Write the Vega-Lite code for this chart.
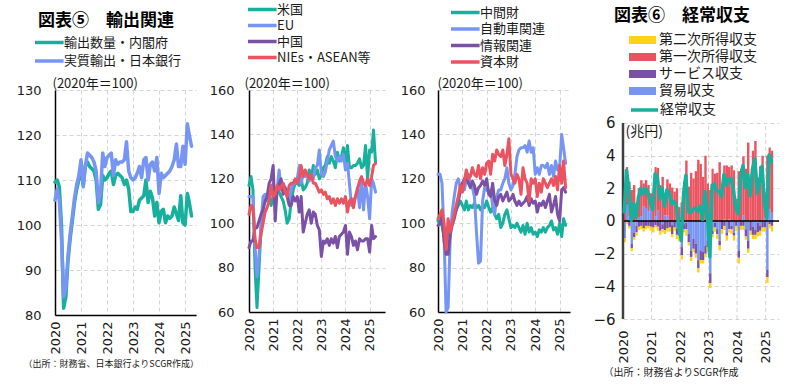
{
"$schema":"https://vega.github.io/schema/vega-lite/v6.json",
"background":"white",
"padding":{"left":16,"top":1,"right":5,"bottom":5},
"bounds":"flush",
"spacing":53,
"config":{
 "font":"Noto Sans CJK JP",
 "view":{"stroke":null},
 "line":{"strokeJoin":"round","strokeCap":"round"},
 "axis":{"labelFont":"DejaVu Sans","labelFontSize":13,"labelColor":"#1a1a1a","grid":true,"gridColor":"#d4d4d4","gridDash":[4,3],"gridWidth":1,"domainColor":"#000000","domainWidth":1.5,"ticks":false,"tickSize":0,"titleFont":"Noto Sans CJK JP","titleFontWeight":"normal","titleColor":"#1a1a1a","titleFontSize":13},
 "legend":{"labelFont":"Noto Sans CJK JP","labelFontSize":13,"labelColor":"#1a1a1a","orient":"none","labelOffset":14,"symbolStrokeWidth":3.5,"symbolSize":169,"symbolType":"M-1,0H3.4"},
 "title":{"font":"Noto Sans CJK JP","fontSize":17,"fontWeight":"bold","color":"#000000","anchor":"start","frame":"group"}
},
"resolve":{"scale":{"color":"independent","fill":"independent","stroke":"independent"}},
"datasets":{
"p1":[
{"d":"2020-01","s":"輸出数量・内閣府","v":109.5},{"d":"2020-02","s":"輸出数量・内閣府","v":110},{"d":"2020-03","s":"輸出数量・内閣府","v":108.5},{"d":"2020-04","s":"輸出数量・内閣府","v":100},{"d":"2020-05","s":"輸出数量・内閣府","v":81.5},{"d":"2020-06","s":"輸出数量・内閣府","v":84},{"d":"2020-07","s":"輸出数量・内閣府","v":92},{"d":"2020-08","s":"輸出数量・内閣府","v":97},{"d":"2020-09","s":"輸出数量・内閣府","v":101},{"d":"2020-10","s":"輸出数量・内閣府","v":105},{"d":"2020-11","s":"輸出数量・内閣府","v":108},{"d":"2020-12","s":"輸出数量・内閣府","v":110},
{"d":"2021-01","s":"輸出数量・内閣府","v":112},{"d":"2021-02","s":"輸出数量・内閣府","v":109},{"d":"2021-03","s":"輸出数量・内閣府","v":113},{"d":"2021-04","s":"輸出数量・内閣府","v":114},{"d":"2021-05","s":"輸出数量・内閣府","v":113},{"d":"2021-06","s":"輸出数量・内閣府","v":112.5},{"d":"2021-07","s":"輸出数量・内閣府","v":112},{"d":"2021-08","s":"輸出数量・内閣府","v":110},{"d":"2021-09","s":"輸出数量・内閣府","v":103.5},{"d":"2021-10","s":"輸出数量・内閣府","v":104.5},{"d":"2021-11","s":"輸出数量・内閣府","v":111},{"d":"2021-12","s":"輸出数量・内閣府","v":110},
{"d":"2022-01","s":"輸出数量・内閣府","v":110.5},{"d":"2022-02","s":"輸出数量・内閣府","v":111.5},{"d":"2022-03","s":"輸出数量・内閣府","v":112},{"d":"2022-04","s":"輸出数量・内閣府","v":109},{"d":"2022-05","s":"輸出数量・内閣府","v":111},{"d":"2022-06","s":"輸出数量・内閣府","v":111.5},{"d":"2022-07","s":"輸出数量・内閣府","v":111},{"d":"2022-08","s":"輸出数量・内閣府","v":110.5},{"d":"2022-09","s":"輸出数量・内閣府","v":109},{"d":"2022-10","s":"輸出数量・内閣府","v":110},{"d":"2022-11","s":"輸出数量・内閣府","v":108},{"d":"2022-12","s":"輸出数量・内閣府","v":103},
{"d":"2023-01","s":"輸出数量・内閣府","v":103},{"d":"2023-02","s":"輸出数量・内閣府","v":104},{"d":"2023-03","s":"輸出数量・内閣府","v":103.5},{"d":"2023-04","s":"輸出数量・内閣府","v":105.5},{"d":"2023-05","s":"輸出数量・内閣府","v":106},{"d":"2023-06","s":"輸出数量・内閣府","v":106.5},{"d":"2023-07","s":"輸出数量・内閣府","v":110},{"d":"2023-08","s":"輸出数量・内閣府","v":105},{"d":"2023-09","s":"輸出数量・内閣府","v":107.5},{"d":"2023-10","s":"輸出数量・内閣府","v":106},{"d":"2023-11","s":"輸出数量・内閣府","v":102},{"d":"2023-12","s":"輸出数量・内閣府","v":105},
{"d":"2024-01","s":"輸出数量・内閣府","v":100.5},{"d":"2024-02","s":"輸出数量・内閣府","v":103},{"d":"2024-03","s":"輸出数量・内閣府","v":103.5},{"d":"2024-04","s":"輸出数量・内閣府","v":100.5},{"d":"2024-05","s":"輸出数量・内閣府","v":102},{"d":"2024-06","s":"輸出数量・内閣府","v":101.5},{"d":"2024-07","s":"輸出数量・内閣府","v":102},{"d":"2024-08","s":"輸出数量・内閣府","v":104},{"d":"2024-09","s":"輸出数量・内閣府","v":102.5},{"d":"2024-10","s":"輸出数量・内閣府","v":101},{"d":"2024-11","s":"輸出数量・内閣府","v":106.5},{"d":"2024-12","s":"輸出数量・内閣府","v":100.5},
{"d":"2025-01","s":"輸出数量・内閣府","v":100},{"d":"2025-02","s":"輸出数量・内閣府","v":107},{"d":"2025-03","s":"輸出数量・内閣府","v":105},{"d":"2025-04","s":"輸出数量・内閣府","v":102},
{"d":"2020-01","s":"実質輸出・日本銀行","v":105.5},{"d":"2020-02","s":"実質輸出・日本銀行","v":108},{"d":"2020-03","s":"実質輸出・日本銀行","v":105.5},{"d":"2020-04","s":"実質輸出・日本銀行","v":97},{"d":"2020-05","s":"実質輸出・日本銀行","v":84},{"d":"2020-06","s":"実質輸出・日本銀行","v":86},{"d":"2020-07","s":"実質輸出・日本銀行","v":93},{"d":"2020-08","s":"実質輸出・日本銀行","v":98},{"d":"2020-09","s":"実質輸出・日本銀行","v":102},{"d":"2020-10","s":"実質輸出・日本銀行","v":106},{"d":"2020-11","s":"実質輸出・日本銀行","v":109},{"d":"2020-12","s":"実質輸出・日本銀行","v":111},
{"d":"2021-01","s":"実質輸出・日本銀行","v":114.5},{"d":"2021-02","s":"実質輸出・日本銀行","v":108.5},{"d":"2021-03","s":"実質輸出・日本銀行","v":113},{"d":"2021-04","s":"実質輸出・日本銀行","v":116},{"d":"2021-05","s":"実質輸出・日本銀行","v":115.5},{"d":"2021-06","s":"実質輸出・日本銀行","v":115},{"d":"2021-07","s":"実質輸出・日本銀行","v":114},{"d":"2021-08","s":"実質輸出・日本銀行","v":112},{"d":"2021-09","s":"実質輸出・日本銀行","v":105},{"d":"2021-10","s":"実質輸出・日本銀行","v":107},{"d":"2021-11","s":"実質輸出・日本銀行","v":116},{"d":"2021-12","s":"実質輸出・日本銀行","v":113},
{"d":"2022-01","s":"実質輸出・日本銀行","v":115},{"d":"2022-02","s":"実質輸出・日本銀行","v":115.5},{"d":"2022-03","s":"実質輸出・日本銀行","v":116},{"d":"2022-04","s":"実質輸出・日本銀行","v":111},{"d":"2022-05","s":"実質輸出・日本銀行","v":114.5},{"d":"2022-06","s":"実質輸出・日本銀行","v":113.5},{"d":"2022-07","s":"実質輸出・日本銀行","v":114},{"d":"2022-08","s":"実質輸出・日本銀行","v":114},{"d":"2022-09","s":"実質輸出・日本銀行","v":114.5},{"d":"2022-10","s":"実質輸出・日本銀行","v":118.5},{"d":"2022-11","s":"実質輸出・日本銀行","v":112},{"d":"2022-12","s":"実質輸出・日本銀行","v":110.5},
{"d":"2023-01","s":"実質輸出・日本銀行","v":110},{"d":"2023-02","s":"実質輸出・日本銀行","v":110.5},{"d":"2023-03","s":"実質輸出・日本銀行","v":111.5},{"d":"2023-04","s":"実質輸出・日本銀行","v":113},{"d":"2023-05","s":"実質輸出・日本銀行","v":110.5},{"d":"2023-06","s":"実質輸出・日本銀行","v":114.5},{"d":"2023-07","s":"実質輸出・日本銀行","v":115},{"d":"2023-08","s":"実質輸出・日本銀行","v":110},{"d":"2023-09","s":"実質輸出・日本銀行","v":113.5},{"d":"2023-10","s":"実質輸出・日本銀行","v":114},{"d":"2023-11","s":"実質輸出・日本銀行","v":112},{"d":"2023-12","s":"実質輸出・日本銀行","v":115},
{"d":"2024-01","s":"実質輸出・日本銀行","v":107},{"d":"2024-02","s":"実質輸出・日本銀行","v":111.5},{"d":"2024-03","s":"実質輸出・日本銀行","v":110.5},{"d":"2024-04","s":"実質輸出・日本銀行","v":111},{"d":"2024-05","s":"実質輸出・日本銀行","v":111.5},{"d":"2024-06","s":"実質輸出・日本銀行","v":112},{"d":"2024-07","s":"実質輸出・日本銀行","v":113},{"d":"2024-08","s":"実質輸出・日本銀行","v":114.5},{"d":"2024-09","s":"実質輸出・日本銀行","v":118},{"d":"2024-10","s":"実質輸出・日本銀行","v":113},{"d":"2024-11","s":"実質輸出・日本銀行","v":113},{"d":"2024-12","s":"実質輸出・日本銀行","v":117.5},
{"d":"2025-01","s":"実質輸出・日本銀行","v":113.5},{"d":"2025-02","s":"実質輸出・日本銀行","v":122.5},{"d":"2025-03","s":"実質輸出・日本銀行","v":120},{"d":"2025-04","s":"実質輸出・日本銀行","v":117.5}
],
"p2":[
{"d":"2020-01","s":"米国","v":117},{"d":"2020-02","s":"米国","v":121},{"d":"2020-03","s":"米国","v":115},{"d":"2020-04","s":"米国","v":80},{"d":"2020-05","s":"米国","v":62},{"d":"2020-06","s":"米国","v":80},{"d":"2020-07","s":"米国","v":97},{"d":"2020-08","s":"米国","v":108},{"d":"2020-09","s":"米国","v":110},{"d":"2020-10","s":"米国","v":112},{"d":"2020-11","s":"米国","v":113},{"d":"2020-12","s":"米国","v":108},
{"d":"2021-01","s":"米国","v":112},{"d":"2021-02","s":"米国","v":111},{"d":"2021-03","s":"米国","v":115},{"d":"2021-04","s":"米国","v":114},{"d":"2021-05","s":"米国","v":112},{"d":"2021-06","s":"米国","v":110},{"d":"2021-07","s":"米国","v":106},{"d":"2021-08","s":"米国","v":100},{"d":"2021-09","s":"米国","v":102},{"d":"2021-10","s":"米国","v":110},{"d":"2021-11","s":"米国","v":115},{"d":"2021-12","s":"米国","v":118},
{"d":"2022-01","s":"米国","v":118},{"d":"2022-02","s":"米国","v":117},{"d":"2022-03","s":"米国","v":120},{"d":"2022-04","s":"米国","v":115},{"d":"2022-05","s":"米国","v":116},{"d":"2022-06","s":"米国","v":118},{"d":"2022-07","s":"米国","v":124},{"d":"2022-08","s":"米国","v":120},{"d":"2022-09","s":"米国","v":126},{"d":"2022-10","s":"米国","v":122},{"d":"2022-11","s":"米国","v":124},{"d":"2022-12","s":"米国","v":120},
{"d":"2023-01","s":"米国","v":122},{"d":"2023-02","s":"米国","v":125},{"d":"2023-03","s":"米国","v":126},{"d":"2023-04","s":"米国","v":130},{"d":"2023-05","s":"米国","v":127},{"d":"2023-06","s":"米国","v":130},{"d":"2023-07","s":"米国","v":128},{"d":"2023-08","s":"米国","v":125},{"d":"2023-09","s":"米国","v":132},{"d":"2023-10","s":"米国","v":128},{"d":"2023-11","s":"米国","v":130},{"d":"2023-12","s":"米国","v":134},
{"d":"2024-01","s":"米国","v":126},{"d":"2024-02","s":"米国","v":135},{"d":"2024-03","s":"米国","v":125},{"d":"2024-04","s":"米国","v":125},{"d":"2024-05","s":"米国","v":126},{"d":"2024-06","s":"米国","v":126},{"d":"2024-07","s":"米国","v":127},{"d":"2024-08","s":"米国","v":129},{"d":"2024-09","s":"米国","v":125},{"d":"2024-10","s":"米国","v":126},{"d":"2024-11","s":"米国","v":135},{"d":"2024-12","s":"米国","v":120},
{"d":"2025-01","s":"米国","v":133},{"d":"2025-02","s":"米国","v":132},{"d":"2025-03","s":"米国","v":142},{"d":"2025-04","s":"米国","v":127},
{"d":"2020-01","s":"EU","v":112},{"d":"2020-02","s":"EU","v":112},{"d":"2020-03","s":"EU","v":112},{"d":"2020-04","s":"EU","v":90},{"d":"2020-05","s":"EU","v":76},{"d":"2020-06","s":"EU","v":85},{"d":"2020-07","s":"EU","v":100},{"d":"2020-08","s":"EU","v":112},{"d":"2020-09","s":"EU","v":113},{"d":"2020-10","s":"EU","v":110},{"d":"2020-11","s":"EU","v":112},{"d":"2020-12","s":"EU","v":115},
{"d":"2021-01","s":"EU","v":118},{"d":"2021-02","s":"EU","v":112},{"d":"2021-03","s":"EU","v":115},{"d":"2021-04","s":"EU","v":124},{"d":"2021-05","s":"EU","v":115},{"d":"2021-06","s":"EU","v":118},{"d":"2021-07","s":"EU","v":116},{"d":"2021-08","s":"EU","v":113},{"d":"2021-09","s":"EU","v":110},{"d":"2021-10","s":"EU","v":115},{"d":"2021-11","s":"EU","v":118},{"d":"2021-12","s":"EU","v":118},
{"d":"2022-01","s":"EU","v":120},{"d":"2022-02","s":"EU","v":126},{"d":"2022-03","s":"EU","v":118},{"d":"2022-04","s":"EU","v":122},{"d":"2022-05","s":"EU","v":121},{"d":"2022-06","s":"EU","v":122},{"d":"2022-07","s":"EU","v":119},{"d":"2022-08","s":"EU","v":122},{"d":"2022-09","s":"EU","v":120},{"d":"2022-10","s":"EU","v":125},{"d":"2022-11","s":"EU","v":126},{"d":"2022-12","s":"EU","v":133},
{"d":"2023-01","s":"EU","v":122},{"d":"2023-02","s":"EU","v":121},{"d":"2023-03","s":"EU","v":123},{"d":"2023-04","s":"EU","v":128},{"d":"2023-05","s":"EU","v":133},{"d":"2023-06","s":"EU","v":135},{"d":"2023-07","s":"EU","v":137},{"d":"2023-08","s":"EU","v":130},{"d":"2023-09","s":"EU","v":128},{"d":"2023-10","s":"EU","v":130},{"d":"2023-11","s":"EU","v":128},{"d":"2023-12","s":"EU","v":131},
{"d":"2024-01","s":"EU","v":124},{"d":"2024-02","s":"EU","v":127},{"d":"2024-03","s":"EU","v":118},{"d":"2024-04","s":"EU","v":108},{"d":"2024-05","s":"EU","v":110},{"d":"2024-06","s":"EU","v":112},{"d":"2024-07","s":"EU","v":116},{"d":"2024-08","s":"EU","v":107},{"d":"2024-09","s":"EU","v":120},{"d":"2024-10","s":"EU","v":106},{"d":"2024-11","s":"EU","v":118},{"d":"2024-12","s":"EU","v":112},
{"d":"2025-01","s":"EU","v":102},{"d":"2025-02","s":"EU","v":120},{"d":"2025-03","s":"EU","v":118},{"d":"2025-04","s":"EU","v":114},
{"d":"2020-01","s":"中国","v":89},{"d":"2020-02","s":"中国","v":92},{"d":"2020-03","s":"中国","v":92},{"d":"2020-04","s":"中国","v":98},{"d":"2020-05","s":"中国","v":98},{"d":"2020-06","s":"中国","v":101},{"d":"2020-07","s":"中国","v":104},{"d":"2020-08","s":"中国","v":106},{"d":"2020-09","s":"中国","v":110},{"d":"2020-10","s":"中国","v":112},{"d":"2020-11","s":"中国","v":118},{"d":"2020-12","s":"中国","v":120},
{"d":"2021-01","s":"中国","v":126},{"d":"2021-02","s":"中国","v":101},{"d":"2021-03","s":"中国","v":115},{"d":"2021-04","s":"中国","v":118},{"d":"2021-05","s":"中国","v":120},{"d":"2021-06","s":"中国","v":113},{"d":"2021-07","s":"中国","v":116},{"d":"2021-08","s":"中国","v":112},{"d":"2021-09","s":"中国","v":108},{"d":"2021-10","s":"中国","v":108},{"d":"2021-11","s":"中国","v":112},{"d":"2021-12","s":"中国","v":110},
{"d":"2022-01","s":"中国","v":112},{"d":"2022-02","s":"中国","v":105},{"d":"2022-03","s":"中国","v":112},{"d":"2022-04","s":"中国","v":96},{"d":"2022-05","s":"中国","v":100},{"d":"2022-06","s":"中国","v":104},{"d":"2022-07","s":"中国","v":106},{"d":"2022-08","s":"中国","v":100},{"d":"2022-09","s":"中国","v":105},{"d":"2022-10","s":"中国","v":104},{"d":"2022-11","s":"中国","v":99},{"d":"2022-12","s":"中国","v":97},
{"d":"2023-01","s":"中国","v":85},{"d":"2023-02","s":"中国","v":92},{"d":"2023-03","s":"中国","v":91},{"d":"2023-04","s":"中国","v":93},{"d":"2023-05","s":"中国","v":90},{"d":"2023-06","s":"中国","v":93},{"d":"2023-07","s":"中国","v":91},{"d":"2023-08","s":"中国","v":94},{"d":"2023-09","s":"中国","v":89},{"d":"2023-10","s":"中国","v":94},{"d":"2023-11","s":"中国","v":95},{"d":"2023-12","s":"中国","v":96},
{"d":"2024-01","s":"中国","v":99},{"d":"2024-02","s":"中国","v":86},{"d":"2024-03","s":"中国","v":96},{"d":"2024-04","s":"中国","v":94},{"d":"2024-05","s":"中国","v":90},{"d":"2024-06","s":"中国","v":92},{"d":"2024-07","s":"中国","v":88},{"d":"2024-08","s":"中国","v":93},{"d":"2024-09","s":"中国","v":92},{"d":"2024-10","s":"中国","v":92},{"d":"2024-11","s":"中国","v":93},{"d":"2024-12","s":"中国","v":93},
{"d":"2025-01","s":"中国","v":87},{"d":"2025-02","s":"中国","v":99},{"d":"2025-03","s":"中国","v":93},{"d":"2025-04","s":"中国","v":94},
{"d":"2020-01","s":"NIEs・ASEAN等","v":104},{"d":"2020-02","s":"NIEs・ASEAN等","v":108},{"d":"2020-03","s":"NIEs・ASEAN等","v":107},{"d":"2020-04","s":"NIEs・ASEAN等","v":93},{"d":"2020-05","s":"NIEs・ASEAN等","v":89},{"d":"2020-06","s":"NIEs・ASEAN等","v":89},{"d":"2020-07","s":"NIEs・ASEAN等","v":95},{"d":"2020-08","s":"NIEs・ASEAN等","v":100},{"d":"2020-09","s":"NIEs・ASEAN等","v":105},{"d":"2020-10","s":"NIEs・ASEAN等","v":107},{"d":"2020-11","s":"NIEs・ASEAN等","v":110},{"d":"2020-12","s":"NIEs・ASEAN等","v":117},
{"d":"2021-01","s":"NIEs・ASEAN等","v":112},{"d":"2021-02","s":"NIEs・ASEAN等","v":113},{"d":"2021-03","s":"NIEs・ASEAN等","v":117},{"d":"2021-04","s":"NIEs・ASEAN等","v":115},{"d":"2021-05","s":"NIEs・ASEAN等","v":116},{"d":"2021-06","s":"NIEs・ASEAN等","v":118},{"d":"2021-07","s":"NIEs・ASEAN等","v":114},{"d":"2021-08","s":"NIEs・ASEAN等","v":112},{"d":"2021-09","s":"NIEs・ASEAN等","v":117},{"d":"2021-10","s":"NIEs・ASEAN等","v":118},{"d":"2021-11","s":"NIEs・ASEAN等","v":118},{"d":"2021-12","s":"NIEs・ASEAN等","v":120},
{"d":"2022-01","s":"NIEs・ASEAN等","v":118},{"d":"2022-02","s":"NIEs・ASEAN等","v":121},{"d":"2022-03","s":"NIEs・ASEAN等","v":126},{"d":"2022-04","s":"NIEs・ASEAN等","v":121},{"d":"2022-05","s":"NIEs・ASEAN等","v":124},{"d":"2022-06","s":"NIEs・ASEAN等","v":122},{"d":"2022-07","s":"NIEs・ASEAN等","v":120},{"d":"2022-08","s":"NIEs・ASEAN等","v":122},{"d":"2022-09","s":"NIEs・ASEAN等","v":118},{"d":"2022-10","s":"NIEs・ASEAN等","v":118},{"d":"2022-11","s":"NIEs・ASEAN等","v":116},{"d":"2022-12","s":"NIEs・ASEAN等","v":114},
{"d":"2023-01","s":"NIEs・ASEAN等","v":115},{"d":"2023-02","s":"NIEs・ASEAN等","v":113},{"d":"2023-03","s":"NIEs・ASEAN等","v":114},{"d":"2023-04","s":"NIEs・ASEAN等","v":111},{"d":"2023-05","s":"NIEs・ASEAN等","v":112},{"d":"2023-06","s":"NIEs・ASEAN等","v":109},{"d":"2023-07","s":"NIEs・ASEAN等","v":111},{"d":"2023-08","s":"NIEs・ASEAN等","v":108},{"d":"2023-09","s":"NIEs・ASEAN等","v":111},{"d":"2023-10","s":"NIEs・ASEAN等","v":109},{"d":"2023-11","s":"NIEs・ASEAN等","v":111},{"d":"2023-12","s":"NIEs・ASEAN等","v":109},
{"d":"2024-01","s":"NIEs・ASEAN等","v":112},{"d":"2024-02","s":"NIEs・ASEAN等","v":105},{"d":"2024-03","s":"NIEs・ASEAN等","v":110},{"d":"2024-04","s":"NIEs・ASEAN等","v":111},{"d":"2024-05","s":"NIEs・ASEAN等","v":107},{"d":"2024-06","s":"NIEs・ASEAN等","v":112},{"d":"2024-07","s":"NIEs・ASEAN等","v":115},{"d":"2024-08","s":"NIEs・ASEAN等","v":119},{"d":"2024-09","s":"NIEs・ASEAN等","v":121},{"d":"2024-10","s":"NIEs・ASEAN等","v":118},{"d":"2024-11","s":"NIEs・ASEAN等","v":117},{"d":"2024-12","s":"NIEs・ASEAN等","v":120},
{"d":"2025-01","s":"NIEs・ASEAN等","v":117},{"d":"2025-02","s":"NIEs・ASEAN等","v":121},{"d":"2025-03","s":"NIEs・ASEAN等","v":126},{"d":"2025-04","s":"NIEs・ASEAN等","v":127}
],
"p3":[
{"d":"2020-01","s":"中間財","v":101},{"d":"2020-02","s":"中間財","v":100},{"d":"2020-03","s":"中間財","v":99},{"d":"2020-04","s":"中間財","v":94},{"d":"2020-05","s":"中間財","v":92},{"d":"2020-06","s":"中間財","v":95},{"d":"2020-07","s":"中間財","v":98},{"d":"2020-08","s":"中間財","v":101},{"d":"2020-09","s":"中間財","v":104},{"d":"2020-10","s":"中間財","v":106},{"d":"2020-11","s":"中間財","v":108},{"d":"2020-12","s":"中間財","v":110},
{"d":"2021-01","s":"中間財","v":108},{"d":"2021-02","s":"中間財","v":106},{"d":"2021-03","s":"中間財","v":110},{"d":"2021-04","s":"中間財","v":106},{"d":"2021-05","s":"中間財","v":108},{"d":"2021-06","s":"中間財","v":107},{"d":"2021-07","s":"中間財","v":109},{"d":"2021-08","s":"中間財","v":107},{"d":"2021-09","s":"中間財","v":108},{"d":"2021-10","s":"中間財","v":106},{"d":"2021-11","s":"中間財","v":108},{"d":"2021-12","s":"中間財","v":107},
{"d":"2022-01","s":"中間財","v":110},{"d":"2022-02","s":"中間財","v":107},{"d":"2022-03","s":"中間財","v":105},{"d":"2022-04","s":"中間財","v":107},{"d":"2022-05","s":"中間財","v":104},{"d":"2022-06","s":"中間財","v":102},{"d":"2022-07","s":"中間財","v":104},{"d":"2022-08","s":"中間財","v":98},{"d":"2022-09","s":"中間財","v":100},{"d":"2022-10","s":"中間財","v":104},{"d":"2022-11","s":"中間財","v":106},{"d":"2022-12","s":"中間財","v":102},
{"d":"2023-01","s":"中間財","v":98},{"d":"2023-02","s":"中間財","v":99},{"d":"2023-03","s":"中間財","v":98},{"d":"2023-04","s":"中間財","v":100},{"d":"2023-05","s":"中間財","v":98},{"d":"2023-06","s":"中間財","v":96},{"d":"2023-07","s":"中間財","v":99},{"d":"2023-08","s":"中間財","v":95},{"d":"2023-09","s":"中間財","v":100},{"d":"2023-10","s":"中間財","v":96},{"d":"2023-11","s":"中間財","v":98},{"d":"2023-12","s":"中間財","v":95},
{"d":"2024-01","s":"中間財","v":96},{"d":"2024-02","s":"中間財","v":94},{"d":"2024-03","s":"中間財","v":97},{"d":"2024-04","s":"中間財","v":96},{"d":"2024-05","s":"中間財","v":98},{"d":"2024-06","s":"中間財","v":96},{"d":"2024-07","s":"中間財","v":98},{"d":"2024-08","s":"中間財","v":99},{"d":"2024-09","s":"中間財","v":101},{"d":"2024-10","s":"中間財","v":97},{"d":"2024-11","s":"中間財","v":98},{"d":"2024-12","s":"中間財","v":95},
{"d":"2025-01","s":"中間財","v":100},{"d":"2025-02","s":"中間財","v":94},{"d":"2025-03","s":"中間財","v":102},{"d":"2025-04","s":"中間財","v":99},
{"d":"2020-01","s":"自動車関連","v":122},{"d":"2020-02","s":"自動車関連","v":122},{"d":"2020-03","s":"自動車関連","v":118},{"d":"2020-04","s":"自動車関連","v":95},{"d":"2020-05","s":"自動車関連","v":60},{"d":"2020-06","s":"自動車関連","v":62},{"d":"2020-07","s":"自動車関連","v":92},{"d":"2020-08","s":"自動車関連","v":105},{"d":"2020-09","s":"自動車関連","v":112},{"d":"2020-10","s":"自動車関連","v":118},{"d":"2020-11","s":"自動車関連","v":120},{"d":"2020-12","s":"自動車関連","v":116},
{"d":"2021-01","s":"自動車関連","v":118},{"d":"2021-02","s":"自動車関連","v":115},{"d":"2021-03","s":"自動車関連","v":120},{"d":"2021-04","s":"自動車関連","v":122},{"d":"2021-05","s":"自動車関連","v":118},{"d":"2021-06","s":"自動車関連","v":116},{"d":"2021-07","s":"自動車関連","v":112},{"d":"2021-08","s":"自動車関連","v":96},{"d":"2021-09","s":"自動車関連","v":82},{"d":"2021-10","s":"自動車関連","v":83},{"d":"2021-11","s":"自動車関連","v":110},{"d":"2021-12","s":"自動車関連","v":116},
{"d":"2022-01","s":"自動車関連","v":115},{"d":"2022-02","s":"自動車関連","v":114},{"d":"2022-03","s":"自動車関連","v":115},{"d":"2022-04","s":"自動車関連","v":108},{"d":"2022-05","s":"自動車関連","v":104},{"d":"2022-06","s":"自動車関連","v":112},{"d":"2022-07","s":"自動車関連","v":115},{"d":"2022-08","s":"自動車関連","v":115},{"d":"2022-09","s":"自動車関連","v":118},{"d":"2022-10","s":"自動車関連","v":120},{"d":"2022-11","s":"自動車関連","v":125},{"d":"2022-12","s":"自動車関連","v":118},
{"d":"2023-01","s":"自動車関連","v":115},{"d":"2023-02","s":"自動車関連","v":117},{"d":"2023-03","s":"自動車関連","v":122},{"d":"2023-04","s":"自動車関連","v":130},{"d":"2023-05","s":"自動車関連","v":133},{"d":"2023-06","s":"自動車関連","v":134},{"d":"2023-07","s":"自動車関連","v":134},{"d":"2023-08","s":"自動車関連","v":135},{"d":"2023-09","s":"自動車関連","v":132},{"d":"2023-10","s":"自動車関連","v":137},{"d":"2023-11","s":"自動車関連","v":132},{"d":"2023-12","s":"自動車関連","v":134},
{"d":"2024-01","s":"自動車関連","v":122},{"d":"2024-02","s":"自動車関連","v":125},{"d":"2024-03","s":"自動車関連","v":122},{"d":"2024-04","s":"自動車関連","v":126},{"d":"2024-05","s":"自動車関連","v":126},{"d":"2024-06","s":"自動車関連","v":125},{"d":"2024-07","s":"自動車関連","v":127},{"d":"2024-08","s":"自動車関連","v":122},{"d":"2024-09","s":"自動車関連","v":126},{"d":"2024-10","s":"自動車関連","v":121},{"d":"2024-11","s":"自動車関連","v":128},{"d":"2024-12","s":"自動車関連","v":124},
{"d":"2025-01","s":"自動車関連","v":125},{"d":"2025-02","s":"自動車関連","v":140},{"d":"2025-03","s":"自動車関連","v":134},{"d":"2025-04","s":"自動車関連","v":127},
{"d":"2020-01","s":"情報関連","v":99},{"d":"2020-02","s":"情報関連","v":100},{"d":"2020-03","s":"情報関連","v":104},{"d":"2020-04","s":"情報関連","v":92},{"d":"2020-05","s":"情報関連","v":86},{"d":"2020-06","s":"情報関連","v":86},{"d":"2020-07","s":"情報関連","v":95},{"d":"2020-08","s":"情報関連","v":99},{"d":"2020-09","s":"情報関連","v":102},{"d":"2020-10","s":"情報関連","v":106},{"d":"2020-11","s":"情報関連","v":110},{"d":"2020-12","s":"情報関連","v":114},
{"d":"2021-01","s":"情報関連","v":118},{"d":"2021-02","s":"情報関連","v":120},{"d":"2021-03","s":"情報関連","v":121},{"d":"2021-04","s":"情報関連","v":118},{"d":"2021-05","s":"情報関連","v":116},{"d":"2021-06","s":"情報関連","v":119},{"d":"2021-07","s":"情報関連","v":117},{"d":"2021-08","s":"情報関連","v":113},{"d":"2021-09","s":"情報関連","v":116},{"d":"2021-10","s":"情報関連","v":117},{"d":"2021-11","s":"情報関連","v":119},{"d":"2021-12","s":"情報関連","v":117},
{"d":"2022-01","s":"情報関連","v":120},{"d":"2022-02","s":"情報関連","v":113},{"d":"2022-03","s":"情報関連","v":112},{"d":"2022-04","s":"情報関連","v":118},{"d":"2022-05","s":"情報関連","v":110},{"d":"2022-06","s":"情報関連","v":108},{"d":"2022-07","s":"情報関連","v":112},{"d":"2022-08","s":"情報関連","v":113},{"d":"2022-09","s":"情報関連","v":110},{"d":"2022-10","s":"情報関連","v":112},{"d":"2022-11","s":"情報関連","v":114},{"d":"2022-12","s":"情報関連","v":110},
{"d":"2023-01","s":"情報関連","v":111},{"d":"2023-02","s":"情報関連","v":113},{"d":"2023-03","s":"情報関連","v":110},{"d":"2023-04","s":"情報関連","v":108},{"d":"2023-05","s":"情報関連","v":110},{"d":"2023-06","s":"情報関連","v":108},{"d":"2023-07","s":"情報関連","v":109},{"d":"2023-08","s":"情報関連","v":110},{"d":"2023-09","s":"情報関連","v":112},{"d":"2023-10","s":"情報関連","v":108},{"d":"2023-11","s":"情報関連","v":111},{"d":"2023-12","s":"情報関連","v":109},
{"d":"2024-01","s":"情報関連","v":110},{"d":"2024-02","s":"情報関連","v":105},{"d":"2024-03","s":"情報関連","v":109},{"d":"2024-04","s":"情報関連","v":108},{"d":"2024-05","s":"情報関連","v":110},{"d":"2024-06","s":"情報関連","v":107},{"d":"2024-07","s":"情報関連","v":110},{"d":"2024-08","s":"情報関連","v":113},{"d":"2024-09","s":"情報関連","v":105},{"d":"2024-10","s":"情報関連","v":108},{"d":"2024-11","s":"情報関連","v":112},{"d":"2024-12","s":"情報関連","v":104},
{"d":"2025-01","s":"情報関連","v":101},{"d":"2025-02","s":"情報関連","v":115},{"d":"2025-03","s":"情報関連","v":116},{"d":"2025-04","s":"情報関連","v":114},
{"d":"2020-01","s":"資本財","v":102},{"d":"2020-02","s":"資本財","v":104},{"d":"2020-03","s":"資本財","v":106},{"d":"2020-04","s":"資本財","v":100},{"d":"2020-05","s":"資本財","v":88},{"d":"2020-06","s":"資本財","v":102},{"d":"2020-07","s":"資本財","v":96},{"d":"2020-08","s":"資本財","v":100},{"d":"2020-09","s":"資本財","v":104},{"d":"2020-10","s":"資本財","v":108},{"d":"2020-11","s":"資本財","v":112},{"d":"2020-12","s":"資本財","v":117},
{"d":"2021-01","s":"資本財","v":114},{"d":"2021-02","s":"資本財","v":119},{"d":"2021-03","s":"資本財","v":124},{"d":"2021-04","s":"資本財","v":120},{"d":"2021-05","s":"資本財","v":121},{"d":"2021-06","s":"資本財","v":125},{"d":"2021-07","s":"資本財","v":122},{"d":"2021-08","s":"資本財","v":121},{"d":"2021-09","s":"資本財","v":126},{"d":"2021-10","s":"資本財","v":120},{"d":"2021-11","s":"資本財","v":125},{"d":"2021-12","s":"資本財","v":122},
{"d":"2022-01","s":"資本財","v":127},{"d":"2022-02","s":"資本財","v":128},{"d":"2022-03","s":"資本財","v":122},{"d":"2022-04","s":"資本財","v":131},{"d":"2022-05","s":"資本財","v":128},{"d":"2022-06","s":"資本財","v":133},{"d":"2022-07","s":"資本財","v":131},{"d":"2022-08","s":"資本財","v":130},{"d":"2022-09","s":"資本財","v":133},{"d":"2022-10","s":"資本財","v":126},{"d":"2022-11","s":"資本財","v":131},{"d":"2022-12","s":"資本財","v":138},
{"d":"2023-01","s":"資本財","v":122},{"d":"2023-02","s":"資本財","v":120},{"d":"2023-03","s":"資本財","v":118},{"d":"2023-04","s":"資本財","v":122},{"d":"2023-05","s":"資本財","v":120},{"d":"2023-06","s":"資本財","v":113},{"d":"2023-07","s":"資本財","v":125},{"d":"2023-08","s":"資本財","v":120},{"d":"2023-09","s":"資本財","v":118},{"d":"2023-10","s":"資本財","v":110},{"d":"2023-11","s":"資本財","v":120},{"d":"2023-12","s":"資本財","v":118},
{"d":"2024-01","s":"資本財","v":120},{"d":"2024-02","s":"資本財","v":112},{"d":"2024-03","s":"資本財","v":118},{"d":"2024-04","s":"資本財","v":114},{"d":"2024-05","s":"資本財","v":120},{"d":"2024-06","s":"資本財","v":118},{"d":"2024-07","s":"資本財","v":116},{"d":"2024-08","s":"資本財","v":118},{"d":"2024-09","s":"資本財","v":120},{"d":"2024-10","s":"資本財","v":117},{"d":"2024-11","s":"資本財","v":121},{"d":"2024-12","s":"資本財","v":115},
{"d":"2025-01","s":"資本財","v":126},{"d":"2025-02","s":"資本財","v":118},{"d":"2025-03","s":"資本財","v":128},{"d":"2025-04","s":"資本財","v":116}
],
"p4b":[
{"d":"2020-01","s":"貿易収支","v":-1.0},{"d":"2020-01","s":"サービス収支","v":-0.05},{"d":"2020-01","s":"第一次所得収支","v":1.85},{"d":"2020-01","s":"第二次所得収支","v":-0.25},
{"d":"2020-02","s":"貿易収支","v":1.0},{"d":"2020-02","s":"サービス収支","v":0.1},{"d":"2020-02","s":"第一次所得収支","v":2.2},{"d":"2020-02","s":"第二次所得収支","v":-0.2},
{"d":"2020-03","s":"貿易収支","v":0.3},{"d":"2020-03","s":"サービス収支","v":-0.3},{"d":"2020-03","s":"第一次所得収支","v":2.1},{"d":"2020-03","s":"第二次所得収支","v":-0.15},
{"d":"2020-04","s":"貿易収支","v":-1.4},{"d":"2020-04","s":"サービス収支","v":-0.25},{"d":"2020-04","s":"第一次所得収支","v":1.9},{"d":"2020-04","s":"第二次所得収支","v":-0.2},
{"d":"2020-05","s":"貿易収支","v":-0.7},{"d":"2020-05","s":"サービス収支","v":-0.3},{"d":"2020-05","s":"第一次所得収支","v":2.2},{"d":"2020-05","s":"第二次所得収支","v":-0.15},
{"d":"2020-06","s":"貿易収支","v":-0.3},{"d":"2020-06","s":"サービス収支","v":-0.4},{"d":"2020-06","s":"第一次所得収支","v":1.1},{"d":"2020-06","s":"第二次所得収支","v":-0.2},
{"d":"2020-07","s":"貿易収支","v":0.2},{"d":"2020-07","s":"サービス収支","v":-0.35},{"d":"2020-07","s":"第一次所得収支","v":1.8},{"d":"2020-07","s":"第二次所得収支","v":-0.2},
{"d":"2020-08","s":"貿易収支","v":0.3},{"d":"2020-08","s":"サービス収支","v":-0.3},{"d":"2020-08","s":"第一次所得収支","v":2.2},{"d":"2020-08","s":"第二次所得収支","v":-0.2},
{"d":"2020-09","s":"貿易収支","v":0.9},{"d":"2020-09","s":"サービス収支","v":-0.45},{"d":"2020-09","s":"第一次所得収支","v":1.4},{"d":"2020-09","s":"第二次所得収支","v":-0.2},
{"d":"2020-10","s":"貿易収支","v":0.8},{"d":"2020-10","s":"サービス収支","v":-0.3},{"d":"2020-10","s":"第一次所得収支","v":1.7},{"d":"2020-10","s":"第二次所得収支","v":-0.2},
{"d":"2020-11","s":"貿易収支","v":0.6},{"d":"2020-11","s":"サービス収支","v":-0.3},{"d":"2020-11","s":"第一次所得収支","v":1.6},{"d":"2020-11","s":"第二次所得収支","v":-0.15},
{"d":"2020-12","s":"貿易収支","v":0.9},{"d":"2020-12","s":"サービス収支","v":-0.35},{"d":"2020-12","s":"第一次所得収支","v":0.8},{"d":"2020-12","s":"第二次所得収支","v":-0.25},
{"d":"2021-01","s":"貿易収支","v":-0.05},{"d":"2021-01","s":"サービス収支","v":-0.35},{"d":"2021-01","s":"第一次所得収支","v":1.4},{"d":"2021-01","s":"第二次所得収支","v":-0.3},
{"d":"2021-02","s":"貿易収支","v":0.3},{"d":"2021-02","s":"サービス収支","v":-0.25},{"d":"2021-02","s":"第一次所得収支","v":3.0},{"d":"2021-02","s":"第二次所得収支","v":-0.15},
{"d":"2021-03","s":"貿易収支","v":0.65},{"d":"2021-03","s":"サービス収支","v":-0.35},{"d":"2021-03","s":"第一次所得収支","v":2.6},{"d":"2021-03","s":"第二次所得収支","v":-0.25},
{"d":"2021-04","s":"貿易収支","v":0.0},{"d":"2021-04","s":"サービス収支","v":-0.6},{"d":"2021-04","s":"第一次所得収支","v":2.2},{"d":"2021-04","s":"第二次所得収支","v":-0.25},
{"d":"2021-05","s":"貿易収支","v":-0.2},{"d":"2021-05","s":"サービス収支","v":-0.3},{"d":"2021-05","s":"第一次所得収支","v":2.7},{"d":"2021-05","s":"第二次所得収支","v":-0.2},
{"d":"2021-06","s":"貿易収支","v":0.35},{"d":"2021-06","s":"サービス収支","v":-0.55},{"d":"2021-06","s":"第一次所得収支","v":1.35},{"d":"2021-06","s":"第二次所得収支","v":-0.25},
{"d":"2021-07","s":"貿易収支","v":0.35},{"d":"2021-07","s":"サービス収支","v":-0.45},{"d":"2021-07","s":"第一次所得収支","v":2.2},{"d":"2021-07","s":"第二次所得収支","v":-0.2},
{"d":"2021-08","s":"貿易収支","v":-0.05},{"d":"2021-08","s":"サービス収支","v":-0.35},{"d":"2021-08","s":"第一次所得収支","v":2.3},{"d":"2021-08","s":"第二次所得収支","v":-0.25},
{"d":"2021-09","s":"貿易収支","v":-0.25},{"d":"2021-09","s":"サービス収支","v":-0.55},{"d":"2021-09","s":"第一次所得収支","v":2.05},{"d":"2021-09","s":"第二次所得収支","v":-0.2},
{"d":"2021-10","s":"貿易収支","v":0.05},{"d":"2021-10","s":"サービス収支","v":-0.4},{"d":"2021-10","s":"第一次所得収支","v":1.75},{"d":"2021-10","s":"第二次所得収支","v":-0.2},
{"d":"2021-11","s":"貿易収支","v":-0.45},{"d":"2021-11","s":"サービス収支","v":-0.4},{"d":"2021-11","s":"第一次所得収支","v":2.0},{"d":"2021-11","s":"第二次所得収支","v":-0.25},
{"d":"2021-12","s":"貿易収支","v":-0.35},{"d":"2021-12","s":"サービス収支","v":-0.55},{"d":"2021-12","s":"第一次所得収支","v":0.85},{"d":"2021-12","s":"第二次所得収支","v":-0.35},
{"d":"2022-01","s":"貿易収支","v":-1.6},{"d":"2022-01","s":"サービス収支","v":-0.5},{"d":"2022-01","s":"第一次所得収支","v":1.15},{"d":"2022-01","s":"第二次所得収支","v":-0.25},
{"d":"2022-02","s":"貿易収支","v":-0.2},{"d":"2022-02","s":"サービス収支","v":-0.3},{"d":"2022-02","s":"第一次所得収支","v":2.4},{"d":"2022-02","s":"第二次所得収支","v":-0.2},
{"d":"2022-03","s":"貿易収支","v":-0.1},{"d":"2022-03","s":"サービス収支","v":-0.4},{"d":"2022-03","s":"第一次所得収支","v":3.7},{"d":"2022-03","s":"第二次所得収支","v":-0.4},
{"d":"2022-04","s":"貿易収支","v":-0.8},{"d":"2022-04","s":"サービス収支","v":-0.5},{"d":"2022-04","s":"第一次所得収支","v":2.1},{"d":"2022-04","s":"第二次所得収支","v":-0.2},
{"d":"2022-05","s":"貿易収支","v":-1.8},{"d":"2022-05","s":"サービス収支","v":-0.4},{"d":"2022-05","s":"第一次所得収支","v":2.95},{"d":"2022-05","s":"第二次所得収支","v":-0.25},
{"d":"2022-06","s":"貿易収支","v":-1.1},{"d":"2022-06","s":"サービス収支","v":-0.6},{"d":"2022-06","s":"第一次所得収支","v":2.6},{"d":"2022-06","s":"第二次所得収支","v":-0.2},
{"d":"2022-07","s":"貿易収支","v":-1.4},{"d":"2022-07","s":"サービス収支","v":-0.6},{"d":"2022-07","s":"第一次所得収支","v":3.05},{"d":"2022-07","s":"第二次所得収支","v":-0.25},
{"d":"2022-08","s":"貿易収支","v":-2.4},{"d":"2022-08","s":"サービス収支","v":-0.5},{"d":"2022-08","s":"第一次所得収支","v":3.75},{"d":"2022-08","s":"第二次所得収支","v":-0.25},
{"d":"2022-09","s":"貿易収支","v":-1.8},{"d":"2022-09","s":"サービス収支","v":-0.6},{"d":"2022-09","s":"第一次所得収支","v":3.5},{"d":"2022-09","s":"第二次所得収支","v":-0.2},
{"d":"2022-10","s":"貿易収支","v":-1.9},{"d":"2022-10","s":"サービス収支","v":-0.5},{"d":"2022-10","s":"第一次所得収支","v":2.7},{"d":"2022-10","s":"第二次所得収支","v":-0.2},
{"d":"2022-11","s":"貿易収支","v":-1.5},{"d":"2022-11","s":"サービス収支","v":-0.5},{"d":"2022-11","s":"第一次所得収支","v":4.0},{"d":"2022-11","s":"第二次所得収支","v":-0.2},
{"d":"2022-12","s":"貿易収支","v":-1.2},{"d":"2022-12","s":"サービス収支","v":-0.4},{"d":"2022-12","s":"第一次所得収支","v":2.3},{"d":"2022-12","s":"第二次所得収支","v":-0.3},
{"d":"2023-01","s":"貿易収支","v":-3.2},{"d":"2023-01","s":"サービス収支","v":-0.6},{"d":"2023-01","s":"第一次所得収支","v":1.9},{"d":"2023-01","s":"第二次所得収支","v":-0.3},
{"d":"2023-02","s":"貿易収支","v":-0.6},{"d":"2023-02","s":"サービス収支","v":-0.2},{"d":"2023-02","s":"第一次所得収支","v":3.2},{"d":"2023-02","s":"第二次所得収支","v":-0.2},
{"d":"2023-03","s":"貿易収支","v":-0.1},{"d":"2023-03","s":"サービス収支","v":-0.3},{"d":"2023-03","s":"第一次所得収支","v":2.9},{"d":"2023-03","s":"第二次所得収支","v":-0.25},
{"d":"2023-04","s":"貿易収支","v":-0.5},{"d":"2023-04","s":"サービス収支","v":-0.3},{"d":"2023-04","s":"第一次所得収支","v":2.95},{"d":"2023-04","s":"第二次所得収支","v":-0.3},
{"d":"2023-05","s":"貿易収支","v":-1.2},{"d":"2023-05","s":"サービス収支","v":-0.3},{"d":"2023-05","s":"第一次所得収支","v":3.6},{"d":"2023-05","s":"第二次所得収支","v":-0.3},
{"d":"2023-06","s":"貿易収支","v":0.0},{"d":"2023-06","s":"サービス収支","v":-0.5},{"d":"2023-06","s":"第一次所得収支","v":2.3},{"d":"2023-06","s":"第二次所得収支","v":-0.3},
{"d":"2023-07","s":"貿易収支","v":0.1},{"d":"2023-07","s":"サービス収支","v":-0.3},{"d":"2023-07","s":"第一次所得収支","v":3.3},{"d":"2023-07","s":"第二次所得収支","v":-0.25},
{"d":"2023-08","s":"貿易収支","v":-0.7},{"d":"2023-08","s":"サービス収支","v":-0.2},{"d":"2023-08","s":"第一次所得収支","v":3.4},{"d":"2023-08","s":"第二次所得収支","v":-0.3},
{"d":"2023-09","s":"貿易収支","v":0.1},{"d":"2023-09","s":"サービス収支","v":-0.5},{"d":"2023-09","s":"第一次所得収支","v":3.2},{"d":"2023-09","s":"第二次所得収支","v":-0.2},
{"d":"2023-10","s":"貿易収支","v":-0.3},{"d":"2023-10","s":"サービス収支","v":-0.2},{"d":"2023-10","s":"第一次所得収支","v":3.4},{"d":"2023-10","s":"第二次所得収支","v":-0.3},
{"d":"2023-11","s":"貿易収支","v":-0.7},{"d":"2023-11","s":"サービス収支","v":-0.2},{"d":"2023-11","s":"第一次所得収支","v":3.1},{"d":"2023-11","s":"第二次所得収支","v":-0.3},
{"d":"2023-12","s":"貿易収支","v":0.05},{"d":"2023-12","s":"サービス収支","v":-0.3},{"d":"2023-12","s":"第一次所得収支","v":1.3},{"d":"2023-12","s":"第二次所得収支","v":-0.3},
{"d":"2024-01","s":"貿易収支","v":-1.8},{"d":"2024-01","s":"サービス収支","v":-0.45},{"d":"2024-01","s":"第一次所得収支","v":3.05},{"d":"2024-01","s":"第二次所得収支","v":-0.35},
{"d":"2024-02","s":"貿易収支","v":-0.05},{"d":"2024-02","s":"サービス収支","v":-0.25},{"d":"2024-02","s":"第一次所得収支","v":3.2},{"d":"2024-02","s":"第二次所得収支","v":-0.25},
{"d":"2024-03","s":"貿易収支","v":0.35},{"d":"2024-03","s":"サービス収支","v":-0.3},{"d":"2024-03","s":"第一次所得収支","v":3.6},{"d":"2024-03","s":"第二次所得収支","v":-0.25},
{"d":"2024-04","s":"貿易収支","v":-0.5},{"d":"2024-04","s":"サービス収支","v":-0.45},{"d":"2024-04","s":"第一次所得収支","v":3.2},{"d":"2024-04","s":"第二次所得収支","v":-0.2},
{"d":"2024-05","s":"貿易収支","v":-1.2},{"d":"2024-05","s":"サービス収支","v":-0.5},{"d":"2024-05","s":"第一次所得収支","v":4.8},{"d":"2024-05","s":"第二次所得収支","v":-0.25},
{"d":"2024-06","s":"貿易収支","v":0.05},{"d":"2024-06","s":"サービス収支","v":-0.6},{"d":"2024-06","s":"第一次所得収支","v":2.35},{"d":"2024-06","s":"第二次所得収支","v":-0.25},
{"d":"2024-07","s":"貿易収支","v":-0.35},{"d":"2024-07","s":"サービス収支","v":-0.5},{"d":"2024-07","s":"第一次所得収支","v":4.3},{"d":"2024-07","s":"第二次所得収支","v":-0.25},
{"d":"2024-08","s":"貿易収支","v":-0.55},{"d":"2024-08","s":"サービス収支","v":-0.3},{"d":"2024-08","s":"第一次所得収支","v":4.9},{"d":"2024-08","s":"第二次所得収支","v":-0.25},
{"d":"2024-09","s":"貿易収支","v":-0.1},{"d":"2024-09","s":"サービス収支","v":-0.6},{"d":"2024-09","s":"第一次所得収支","v":2.65},{"d":"2024-09","s":"第二次所得収支","v":-0.25},
{"d":"2024-10","s":"貿易収支","v":-0.3},{"d":"2024-10","s":"サービス収支","v":-0.3},{"d":"2024-10","s":"第一次所得収支","v":3.35},{"d":"2024-10","s":"第二次所得収支","v":-0.3},
{"d":"2024-11","s":"貿易収支","v":-0.05},{"d":"2024-11","s":"サービス収支","v":-0.35},{"d":"2024-11","s":"第一次所得収支","v":4.0},{"d":"2024-11","s":"第二次所得収支","v":-0.25},
{"d":"2024-12","s":"貿易収支","v":0.2},{"d":"2024-12","s":"サービス収支","v":-0.4},{"d":"2024-12","s":"第一次所得収支","v":1.55},{"d":"2024-12","s":"第二次所得収支","v":-0.25},
{"d":"2025-01","s":"貿易収支","v":-3.0},{"d":"2025-01","s":"サービス収支","v":-0.45},{"d":"2025-01","s":"第一次所得収支","v":4.0},{"d":"2025-01","s":"第二次所得収支","v":-0.35},
{"d":"2025-02","s":"貿易収支","v":0.7},{"d":"2025-02","s":"サービス収支","v":-0.2},{"d":"2025-02","s":"第一次所得収支","v":3.8},{"d":"2025-02","s":"第二次所得収支","v":-0.25},
{"d":"2025-03","s":"貿易収支","v":0.5},{"d":"2025-03","s":"サービス収支","v":-0.3},{"d":"2025-03","s":"第一次所得収支","v":3.8},{"d":"2025-03","s":"第二次所得収支","v":-0.35}
],
"p4c":[
{"d":"2020-01","s":"経常収支","v":0.55},{"d":"2020-02","s":"経常収支","v":3.1},{"d":"2020-03","s":"経常収支","v":1.95},{"d":"2020-04","s":"経常収支","v":0.05},{"d":"2020-05","s":"経常収支","v":1.05},{"d":"2020-06","s":"経常収支","v":0.2},{"d":"2020-07","s":"経常収支","v":1.45},{"d":"2020-08","s":"経常収支","v":2.0},{"d":"2020-09","s":"経常収支","v":1.65},{"d":"2020-10","s":"経常収支","v":2.0},{"d":"2020-11","s":"経常収支","v":1.75},{"d":"2020-12","s":"経常収支","v":1.1},
{"d":"2021-01","s":"経常収支","v":0.7},{"d":"2021-02","s":"経常収支","v":2.9},{"d":"2021-03","s":"経常収支","v":2.65},{"d":"2021-04","s":"経常収支","v":1.35},{"d":"2021-05","s":"経常収支","v":2.0},{"d":"2021-06","s":"経常収支","v":0.9},{"d":"2021-07","s":"経常収支","v":1.9},{"d":"2021-08","s":"経常収支","v":1.65},{"d":"2021-09","s":"経常収支","v":1.05},{"d":"2021-10","s":"経常収支","v":1.2},{"d":"2021-11","s":"経常収支","v":0.9},{"d":"2021-12","s":"経常収支","v":-0.4},
{"d":"2022-01","s":"経常収支","v":-1.2},{"d":"2022-02","s":"経常収支","v":1.7},{"d":"2022-03","s":"経常収支","v":2.8},{"d":"2022-04","s":"経常収支","v":0.6},{"d":"2022-05","s":"経常収支","v":0.5},{"d":"2022-06","s":"経常収支","v":0.7},{"d":"2022-07","s":"経常収支","v":0.8},{"d":"2022-08","s":"経常収支","v":0.6},{"d":"2022-09","s":"経常収支","v":0.9},{"d":"2022-10","s":"経常収支","v":0.1},{"d":"2022-11","s":"経常収支","v":1.8},{"d":"2022-12","s":"経常収支","v":0.4},
{"d":"2023-01","s":"経常収支","v":-2.2},{"d":"2023-02","s":"経常収支","v":2.2},{"d":"2023-03","s":"経常収支","v":2.25},{"d":"2023-04","s":"経常収支","v":1.85},{"d":"2023-05","s":"経常収支","v":1.8},{"d":"2023-06","s":"経常収支","v":1.5},{"d":"2023-07","s":"経常収支","v":2.85},{"d":"2023-08","s":"経常収支","v":2.2},{"d":"2023-09","s":"経常収支","v":2.6},{"d":"2023-10","s":"経常収支","v":2.6},{"d":"2023-11","s":"経常収支","v":1.9},{"d":"2023-12","s":"経常収支","v":0.75},
{"d":"2024-01","s":"経常収支","v":0.45},{"d":"2024-02","s":"経常収支","v":2.65},{"d":"2024-03","s":"経常収支","v":3.4},{"d":"2024-04","s":"経常収支","v":2.05},{"d":"2024-05","s":"経常収支","v":2.85},{"d":"2024-06","s":"経常収支","v":1.55},{"d":"2024-07","s":"経常収支","v":3.2},{"d":"2024-08","s":"経常収支","v":3.8},{"d":"2024-09","s":"経常収支","v":1.7},{"d":"2024-10","s":"経常収支","v":2.45},{"d":"2024-11","s":"経常収支","v":3.35},{"d":"2024-12","s":"経常収支","v":1.1},
{"d":"2025-01","s":"経常収支","v":0.2},{"d":"2025-02","s":"経常収支","v":4.05},{"d":"2025-03","s":"経常収支","v":3.65}
],
"p4g":[{"t":"2021-01"},{"t":"2022-01"},{"t":"2023-01"},{"t":"2024-01"},{"t":"2025-01"}]
},
"hconcat":[
{
 "width":141,"height":225,
 "title":{"text":"図表⑤　輸出関連","dx":-17,"offset":4},
 "data":{"name":"p1"},
 "mark":{"type":"line","strokeWidth":3.5},
 "encoding":{
  "x":{"field":"d","type":"temporal","scale":{"type":"utc","domain":[{"year":2020,"month":1,"date":1,"utc":true},{"year":2025,"month":6,"date":3,"utc":true}]},
   "axis":{"format":"%Y","labelAngle":-90,"tickCount":{"interval":"year","step":1},"labelPadding":6,"labelOverlap":false,"title":"（出所：財務省、日本銀行よりSCGR作成）","titleX":-32,"titleY":48,"titleAlign":"left","titleBaseline":"middle","titleFontSize":9}},
  "y":{"field":"v","type":"quantitative","scale":{"domain":[80,130],"nice":false,"zero":false},
   "axis":{"values":[80,90,100,110,120,130],"labelPadding":14,"title":"(2020年＝100)","titleAngle":0,"titleAlign":"left","titleBaseline":"alphabetic","titleX":-3,"titleY":-3}},
  "color":{"field":"s","type":"nominal","scale":{"domain":["輸出数量・内閣府","実質輸出・日本銀行"],"range":["#17B09D","#7795F3"]},
   "legend":{"title":null,"legendX":-22,"legendY":-56,"rowPadding":2.5}}
 }
},
{
 "width":136,"height":222,
 "data":{"name":"p2"},
 "mark":{"type":"line","strokeWidth":3},
 "encoding":{
  "x":{"field":"d","type":"temporal","scale":{"type":"utc","domain":[{"year":2020,"month":1,"date":1,"utc":true},{"year":2025,"month":8,"date":22,"utc":true}]},
   "axis":{"format":"%Y","labelAngle":-90,"tickCount":{"interval":"year","step":1},"labelPadding":6,"labelOverlap":false,"title":null}},
  "y":{"field":"v","type":"quantitative","scale":{"domain":[60,160],"nice":false,"zero":false},
   "axis":{"values":[60,80,100,120,140,160],"labelPadding":15,"title":"(2020年＝100)","titleAngle":0,"titleAlign":"left","titleBaseline":"alphabetic","titleX":-5,"titleY":-3}},
  "color":{"field":"s","type":"nominal","scale":{"domain":["米国","EU","中国","NIEs・ASEAN等"],"range":["#17B09D","#7795F3","#7B51A6","#EA5360"]},
   "legend":{"title":null,"legendX":-3,"legendY":-89,"rowPadding":0}}
 }
},
{
 "width":132,"height":222,
 "data":{"name":"p3"},
 "mark":{"type":"line","strokeWidth":3},
 "encoding":{
  "x":{"field":"d","type":"temporal","scale":{"type":"utc","domain":[{"year":2020,"month":1,"date":1,"utc":true},{"year":2025,"month":6,"date":6,"utc":true}]},
   "axis":{"format":"%Y","labelAngle":-90,"tickCount":{"interval":"year","step":1},"labelPadding":6,"labelOverlap":false,"title":null}},
  "y":{"field":"v","type":"quantitative","scale":{"domain":[60,160],"nice":false,"zero":false},
   "axis":{"values":[60,80,100,120,140,160],"labelPadding":13,"title":"(2020年＝100)","titleAngle":0,"titleAlign":"left","titleBaseline":"alphabetic","titleX":-1,"titleY":-3}},
  "color":{"field":"s","type":"nominal","scale":{"domain":["中間財","自動車関連","情報関連","資本財"],"range":["#17B09D","#7795F3","#7B51A6","#EA5360"]},
   "legend":{"title":null,"legendX":11,"legendY":-86,"rowPadding":0.5}}
 }
},
{
 "width":156,"height":229,
 "title":{"text":"図表⑥　経常収支","dx":-9,"offset":8},
 "layer":[
  {"data":{"name":"p4g"},"mark":{"type":"rule","color":"#d4d4d4","strokeDash":[4,3],"strokeWidth":1},
   "encoding":{"x":{"field":"t","type":"temporal","scale":{"type":"utc","domain":[{"year":2020,"month":1,"date":1,"utc":true},{"year":2025,"month":6,"date":21,"utc":true}]},
     "axis":{"format":"%Y","labelAngle":-90,"tickCount":{"interval":"year","step":1},"labelPadding":11,"labelOverlap":false,"domain":false,"grid":false,"title":"（出所：財務省よりSCGR作成","titleX":-20,"titleY":53,"titleAlign":"left","titleBaseline":"middle","titleFontSize":10}},
    "y":{"datum":-6,"type":"quantitative","scale":{"domain":[-6,8.02],"nice":false,"zero":false},
     "axis":{"values":[-6,-4,-2,0,2,4,6],"domain":false,"labelPadding":8,"labelFontSize":15,"labelOverlap":false,"title":"(兆円)","titleAngle":0,"titleAlign":"left","titleBaseline":"middle","titleX":2,"titleY":41,"titleFontSize":14}},
    "y2":{"datum":6}}},
  {"data":{"name":"p4b"},
   "transform":[{"calculate":"indexof(['貿易収支','サービス収支','第一次所得収支','第二次所得収支'], datum.s)","as":"o"}],
   "mark":{"type":"bar","timeUnitBandSize":1,"binSpacing":0},
   "encoding":{
    "x":{"field":"d","type":"temporal","timeUnit":"utcyearmonth","scale":{"type":"utc","domain":[{"year":2020,"month":1,"date":1,"utc":true},{"year":2025,"month":6,"date":21,"utc":true}]},
     "axis":{"format":"%Y","labelAngle":-90,"tickCount":{"interval":"year","step":1},"labelPadding":11,"labelOverlap":false,"domain":false,"grid":false,"title":"（出所：財務省よりSCGR作成","titleX":-20,"titleY":53,"titleAlign":"left","titleBaseline":"middle","titleFontSize":10}},
    "y":{"field":"v","type":"quantitative","stack":"zero","scale":{"domain":[-6,8.02],"nice":false,"zero":false},
     "axis":{"values":[-6,-4,-2,0,2,4,6],"domain":false,"labelPadding":8,"labelFontSize":15,"labelOverlap":false,"title":"(兆円)","titleAngle":0,"titleAlign":"left","titleBaseline":"middle","titleX":2,"titleY":41,"titleFontSize":14}},
    "fill":{"field":"s","type":"nominal","scale":{"domain":["貿易収支","サービス収支","第一次所得収支","第二次所得収支"],"range":["#7795F3","#7B51A6","#EA5360","#FFD219"]},
     "legend":{"title":null,"values":["第二次所得収支","第一次所得収支","サービス収支","貿易収支"],"legendX":6,"legendY":-57,"rowPadding":3,"labelFontSize":14,"symbolType":"M-1,-0.57H2.86V0.57H-1Z","symbolSize":196,"labelOffset":16,"symbolStrokeWidth":0,"symbolOpacity":1}},
    "order":{"field":"o","type":"quantitative"}
   }},
  {"data":{"values":[{}]},"mark":{"type":"rule","color":"#000000","strokeWidth":1.5},
   "encoding":{"y":{"datum":0,"type":"quantitative","scale":{"domain":[-6,8.02],"nice":false,"zero":false},
     "axis":{"values":[-6,-4,-2,0,2,4,6],"domain":false,"labelPadding":8,"labelFontSize":15,"labelOverlap":false,"title":"(兆円)","titleAngle":0,"titleAlign":"left","titleBaseline":"middle","titleX":2,"titleY":41,"titleFontSize":14}}}},
  {"data":{"values":[{}]},"mark":{"type":"rule","color":"#404040","strokeWidth":2.5},
   "encoding":{"x":{"datum":{"year":2020,"month":1,"date":1,"utc":true},"type":"temporal","scale":{"type":"utc","domain":[{"year":2020,"month":1,"date":1,"utc":true},{"year":2025,"month":6,"date":21,"utc":true}]},
     "axis":{"format":"%Y","labelAngle":-90,"tickCount":{"interval":"year","step":1},"labelPadding":11,"labelOverlap":false,"domain":false,"grid":false,"title":"（出所：財務省よりSCGR作成","titleX":-20,"titleY":53,"titleAlign":"left","titleBaseline":"middle","titleFontSize":10}},
    "y":{"datum":-6,"type":"quantitative","scale":{"domain":[-6,8.02],"nice":false,"zero":false},
     "axis":{"values":[-6,-4,-2,0,2,4,6],"domain":false,"labelPadding":8,"labelFontSize":15,"labelOverlap":false,"title":"(兆円)","titleAngle":0,"titleAlign":"left","titleBaseline":"middle","titleX":2,"titleY":41,"titleFontSize":14}},
    "y2":{"datum":6}}},
  {"data":{"name":"p4c"},"mark":{"type":"line","strokeWidth":3.5},
   "encoding":{
    "x":{"field":"d","type":"temporal","timeUnit":"utcyearmonth","bandPosition":0.5,"scale":{"type":"utc","domain":[{"year":2020,"month":1,"date":1,"utc":true},{"year":2025,"month":6,"date":21,"utc":true}]},
     "axis":{"format":"%Y","labelAngle":-90,"tickCount":{"interval":"year","step":1},"labelPadding":11,"labelOverlap":false,"domain":false,"grid":false,"title":"（出所：財務省よりSCGR作成","titleX":-20,"titleY":53,"titleAlign":"left","titleBaseline":"middle","titleFontSize":10}},
    "y":{"field":"v","type":"quantitative","scale":{"domain":[-6,8.02],"nice":false,"zero":false},
     "axis":{"values":[-6,-4,-2,0,2,4,6],"domain":false,"labelPadding":8,"labelFontSize":15,"labelOverlap":false,"title":"(兆円)","titleAngle":0,"titleAlign":"left","titleBaseline":"middle","titleX":2,"titleY":41,"titleFontSize":14}},
    "stroke":{"field":"s","type":"nominal","scale":{"domain":["経常収支"],"range":["#17B09D"]},
     "legend":{"title":null,"legendX":6,"legendY":11,"labelFontSize":14,"symbolType":"M-1,0H2.86","symbolSize":196,"labelOffset":13,"symbolStrokeWidth":3.5}}
   }}
 ]
}
]
}
